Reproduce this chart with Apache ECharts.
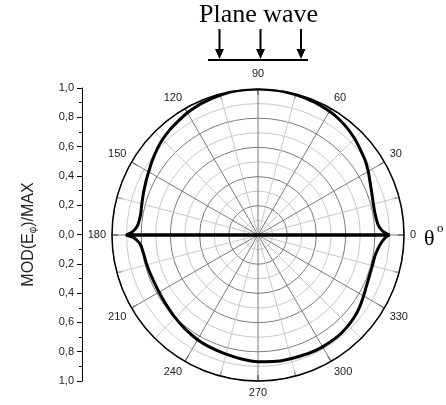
<!DOCTYPE html>
<html>
<head>
<meta charset="utf-8">
<script src="https://cdn.jsdelivr.net/npm/echarts@6/dist/echarts.min.js"></script>
<style>
  html, body { margin: 0; padding: 0; background: #fff; }
  #chart { width: 446px; height: 405px; }
</style>
</head>
<body>
<div id="chart"></div>
<script>
// pattern, angle in degrees (0..360) and normalised magnitude
var theta = [0, 1, 2.5, 5, 10, 15, 20, 26, 30, 35, 41, 45, 50, 55, 60, 67, 75, 82, 90,
  98, 105, 113, 120, 124, 130, 135, 139, 145, 150, 154, 160, 166, 170, 175, 177.5, 179, 180,
  181, 182.5, 185, 190, 194, 200, 209, 216, 224, 232, 240, 247, 254, 262, 270,
  280, 293, 300, 308, 314, 320, 325, 330, 334, 338, 344, 349.5, 353, 356, 358, 359, 360];
var magnitude = [0.90, 0.87, 0.845, 0.825, 0.815, 0.818, 0.83, 0.852, 0.872, 0.895, 0.918, 0.935, 0.953, 0.968, 0.978, 0.988, 0.995, 0.999, 1.0,
  0.999, 0.993, 0.981, 0.967, 0.955, 0.94, 0.925, 0.91, 0.885, 0.865, 0.852, 0.835, 0.822, 0.816, 0.825, 0.845, 0.87, 0.90,
  0.86, 0.83, 0.806, 0.793, 0.789, 0.784, 0.782, 0.788, 0.80, 0.814, 0.828, 0.836, 0.843, 0.856, 0.868,
  0.876, 0.882, 0.885, 0.884, 0.877, 0.866, 0.852, 0.835, 0.823, 0.815, 0.811, 0.813, 0.825, 0.843, 0.862, 0.875, 0.90];
// horizontal line through the centre (0 deg and 180 deg)
var axisTheta = [0, 0, 180];
var axisMag = [0.90, 0, 0.90];

var pattern = [];
for (var i = 0; i < theta.length; i++) {
  pattern.push([magnitude[i], theta[i]]);
}
var diameter = [];
for (var i = 0; i < axisTheta.length; i++) {
  diameter.push([axisMag[i], axisTheta[i]]);
}

var chart = echarts.init(document.getElementById("chart"));
chart.setOption({
  animation: false,
  textStyle: { fontFamily: "Liberation Sans, Arial, sans-serif" },
  polar: {
    center: [258, 235],
    radius: 146
  },
  angleAxis: {
    type: "value",
    min: 0,
    max: 360,
    interval: 30,
    startAngle: 0,
    clockwise: false,
    axisLine: { lineStyle: { color: "#000", width: 1.5 } },
    axisTick: { show: true, inside: true, length: 6, lineStyle: { color: "#000" } },
    minorTick: { show: true, splitNumber: 2, length: 6, lineStyle: { color: "#000" } },
    axisLabel: {
      margin: 6,
      color: "#222",
      fontSize: 11,
      formatter: function (v) {
        if (v === 360) return "";
        if (v === 90) return "{top|90}";
        return String(v);
      },
      rich: { top: { fontSize: 11, color: "#222", padding: [0, 0, 4, 0] } }
    },
    splitLine: { show: true, lineStyle: { color: "#7a7a7a", width: 1 } },
    minorSplitLine: { show: true, lineStyle: { color: "#c8c8c8", width: 1 } }
  },
  radiusAxis: {
    type: "value",
    min: 0,
    max: 1,
    interval: 0.2,
    axisLine: { show: false },
    axisTick: { show: false },
    axisLabel: { show: false },
    splitLine: { show: true, lineStyle: { color: "#7a7a7a", width: 1 } },
    minorSplitLine: { show: true, lineStyle: { color: "#c8c8c8", width: 1 } },
    minorTick: { show: false, splitNumber: 2 }
  },
  grid: { left: 82, top: 88, width: 1, height: 293 },
  xAxis: { type: "value", show: false },
  yAxis: {
    type: "value",
    min: -1,
    max: 1,
    interval: 0.2,
    axisLine: { show: true, lineStyle: { color: "#000" } },
    axisTick: { show: true, length: 5, lineStyle: { color: "#000" } },
    minorTick: { show: true, splitNumber: 2, length: 3, lineStyle: { color: "#000" } },
    splitLine: { show: false },
    axisLabel: {
      margin: 8,
      color: "#222",
      fontSize: 11,
      formatter: function (v) { return Math.abs(v).toFixed(1).replace(".", ","); }
    },
    name: "MOD(E{sub|φ})/MAX",
    nameLocation: "middle",
    nameRotate: 90,
    nameGap: 44,
    nameTextStyle: {
      fontSize: 16,
      color: "#222",
      rich: { sub: { fontSize: 10, verticalAlign: "bottom", padding: [8, 0, 0, 0] } }
    }
  },
  graphic: [
    { type: "text", left: 199, top: 2, style: { text: "Plane wave", font: "26px 'Liberation Serif', 'Times New Roman', serif", fill: "#000" } },
    { type: "line", shape: { x1: 208, y1: 60, x2: 308, y2: 60 }, style: { stroke: "#000", lineWidth: 2 } },
    { type: "line", shape: { x1: 219.5, y1: 29, x2: 219.5, y2: 51 }, style: { stroke: "#000", lineWidth: 2 } },
    { type: "polygon", shape: { points: [[215, 49], [224, 49], [219.5, 59]] }, style: { fill: "#000" } },
    { type: "line", shape: { x1: 260.5, y1: 29, x2: 260.5, y2: 51 }, style: { stroke: "#000", lineWidth: 2 } },
    { type: "polygon", shape: { points: [[256, 49], [265, 49], [260.5, 59]] }, style: { fill: "#000" } },
    { type: "line", shape: { x1: 301, y1: 29, x2: 301, y2: 51 }, style: { stroke: "#000", lineWidth: 2 } },
    { type: "polygon", shape: { points: [[296.5, 49], [305.5, 49], [301, 59]] }, style: { fill: "#000" } },
    { type: "text", left: 424, top: 228, style: { text: "θ", font: "22px 'Liberation Serif', 'Times New Roman', serif", fill: "#000" } },
    { type: "text", left: 437, top: 222, style: { text: "o", font: "13px 'Liberation Serif', 'Times New Roman', serif", fill: "#000" } }
  ],
  series: [
    {
      type: "line",
      coordinateSystem: "polar",
      data: pattern,
      smooth: 0.2,
      showSymbol: false,
      lineStyle: { color: "#000", width: 3 },
      z: 5
    },
    {
      type: "line",
      coordinateSystem: "polar",
      data: diameter,
      showSymbol: false,
      lineStyle: { color: "#000", width: 3.5 },
      z: 5
    }
  ]
});
</script>
</body>
</html>
